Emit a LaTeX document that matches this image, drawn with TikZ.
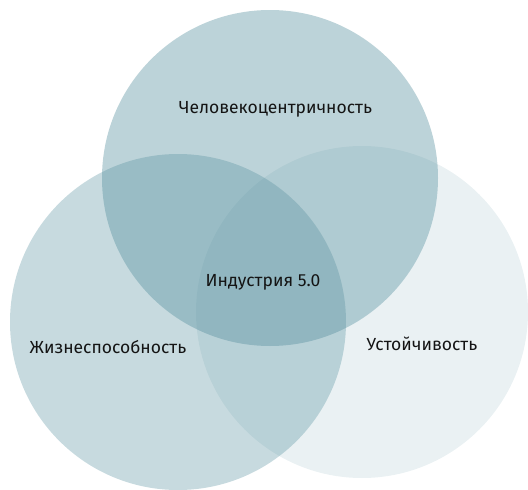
\documentclass[tikz,border=0pt]{standalone}
\usepackage{fontspec}
\setmainfont{Fira Sans}
\begin{document}
\begin{tikzpicture}[x=1pt,y=-1pt,
  venn/.style={fill={rgb,255:red,80;green,140;blue,155}, draw=none},
  lbl/.style={font=\fontsize{17.5}{20}\selectfont, text={rgb,255:red,20;green,20;blue,20}, inner sep=0pt}]
\useasboundingbox (0,0) rectangle (528,490);
\fill[venn, fill opacity=0.32] (178,322) circle (168);
\fill[venn, fill opacity=0.12] (362,312) circle (166);
\fill[venn, fill opacity=0.38] (270,178) circle (168);
\node[lbl] (hc) at (275.5,109) {Человекоцентричность};
\node[lbl] (ind) at (263,282) {Индустрия 5.0};
\node[lbl] (zh) at (108,347) {Жизнеспособность};
\node[lbl] (us) at (422,344) {Устойчивость};
\end{tikzpicture}
\end{document}
